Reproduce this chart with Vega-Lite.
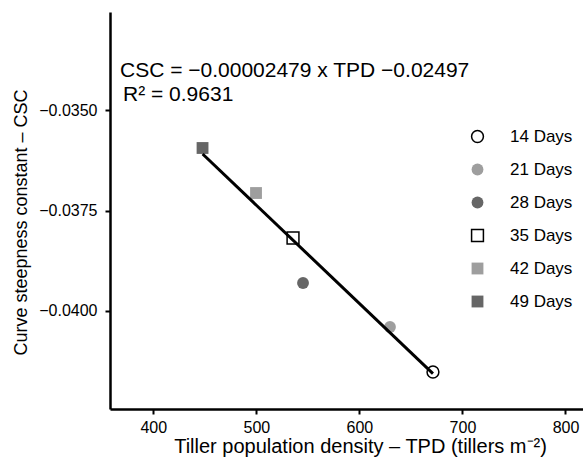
{
  "$schema": "https://vega.github.io/schema/vega-lite/v6.json",
  "width": 473,
  "height": 397,
  "autosize": {"type": "none"},
  "padding": {"left": 110, "top": 12, "right": 0, "bottom": 61},
  "background": "white",
  "config": {
    "view": {"stroke": null},
    "font": "Liberation Sans",
    "axis": {
      "grid": false,
      "domainColor": "black",
      "domainWidth": 2.5,
      "tickColor": "black",
      "tickWidth": 2,
      "tickSize": 5,
      "labelColor": "black",
      "labelFontSize": 16,
      "labelFont": "Liberation Sans",
      "titleFont": "Liberation Sans",
      "titleFontSize": 18,
      "titleFontWeight": "normal",
      "titleColor": "black"
    },
    "legend": {
      "labelFont": "Liberation Sans",
      "labelFontSize": 17,
      "labelColor": "black"
    }
  },
  "datasets": {
    "pts": [
      {"tpd": 671.4, "csc": -0.041517, "day": "14 Days"},
      {"tpd": 629.7, "csc": -0.040398, "day": "21 Days"},
      {"tpd": 545.3, "csc": -0.039303, "day": "28 Days"},
      {"tpd": 535.6, "csc": -0.038184, "day": "35 Days"},
      {"tpd": 499.7, "csc": -0.037065, "day": "42 Days"},
      {"tpd": 447.8, "csc": -0.035945, "day": "49 Days"}
    ],
    "fit": [
      {"tpd": 447.9, "csc": -0.036094},
      {"tpd": 671.4, "csc": -0.041560}
    ]
  },
  "layer": [
    {
      "data": {"name": "pts"},
      "mark": {"type": "point", "opacity": 1, "size": 140, "strokeWidth": 1.5},
      "encoding": {
        "x": {
          "field": "tpd", "type": "quantitative",
          "scale": {"domain": [358, 817], "nice": false, "zero": false},
          "axis": {
            "values": [400, 500, 600, 700, 800],
            "title": "Tiller population density – TPD (tillers m⁻²)",
            "labelFontSize": 16,
            "titleFontSize": 20,
            "labelPadding": 5,
            "titleX": 250,
            "titleY": 43,
            "titleBaseline": "alphabetic",
            "titleAnchor": "middle"
          }
        },
        "y": {
          "field": "csc", "type": "quantitative",
          "scale": {"domain": [-0.042438, -0.032562], "nice": false, "zero": false},
          "axis": {
            "values": [-0.035, -0.0375, -0.04],
            "format": ".4f",
            "labelExpr": "replace(datum.label, '-', '−')",
            "title": "Curve steepness constant – CSC",
            "labelFontSize": 16,
            "labelPadding": 8,
            "titleX": -84,
            "titleY": 210,
            "titleBaseline": "alphabetic",
            "titleAnchor": "middle",
            "titleAngle": -90
          }
        },
        "shape": {
          "field": "day", "type": "nominal",
          "scale": {
            "domain": ["14 Days", "21 Days", "28 Days", "35 Days", "42 Days", "49 Days"],
            "range": ["circle", "circle", "circle", "square", "square", "square"]
          },
          "legend": {
            "title": null,
            "orient": "none",
            "legendX": 359,
            "legendY": 116,
            "padding": 0,
            "rowPadding": 14,
            "labelOffset": 24,
            "symbolSize": 140,
            "symbolStrokeWidth": 1.5,
            "symbolOpacity": 1
          }
        },
        "fill": {
          "field": "day", "type": "nominal",
          "scale": {
            "domain": ["14 Days", "21 Days", "28 Days", "35 Days", "42 Days", "49 Days"],
            "range": ["white", "#9e9e9e", "#666666", "white", "#9e9e9e", "#666666"]
          },
          "legend": {
            "title": null,
            "orient": "none",
            "legendX": 359,
            "legendY": 116,
            "padding": 0,
            "rowPadding": 14,
            "labelOffset": 24,
            "symbolSize": 140,
            "symbolStrokeWidth": 1.5,
            "symbolOpacity": 1
          }
        },
        "stroke": {
          "field": "day", "type": "nominal",
          "scale": {
            "domain": ["14 Days", "21 Days", "28 Days", "35 Days", "42 Days", "49 Days"],
            "range": ["black", "transparent", "transparent", "black", "transparent", "transparent"]
          },
          "legend": {
            "title": null,
            "orient": "none",
            "legendX": 359,
            "legendY": 116,
            "padding": 0,
            "rowPadding": 14,
            "labelOffset": 24,
            "symbolSize": 140,
            "symbolStrokeWidth": 1.5,
            "symbolOpacity": 1
          }
        }
      }
    },
    {
      "data": {"name": "fit"},
      "mark": {"type": "line", "color": "black", "strokeWidth": 3},
      "encoding": {
        "x": {"field": "tpd", "type": "quantitative"},
        "y": {"field": "csc", "type": "quantitative"}
      }
    },
    {
      "data": {"values": [{}]},
      "mark": {"type": "text", "align": "left", "baseline": "alphabetic", "fontSize": 21, "font": "Liberation Sans", "color": "black", "text": "CSC = −0.00002479 x TPD −0.02497"},
      "encoding": {
        "x": {"datum": 367.7, "type": "quantitative"},
        "y": {"datum": -0.034179, "type": "quantitative"}
      }
    },
    {
      "data": {"values": [{}]},
      "mark": {"type": "text", "align": "left", "baseline": "alphabetic", "fontSize": 21, "font": "Liberation Sans", "color": "black", "text": "R² = 0.9631"},
      "encoding": {
        "x": {"datum": 370.6, "type": "quantitative"},
        "y": {"datum": -0.034776, "type": "quantitative"}
      }
    }
  ]
}
